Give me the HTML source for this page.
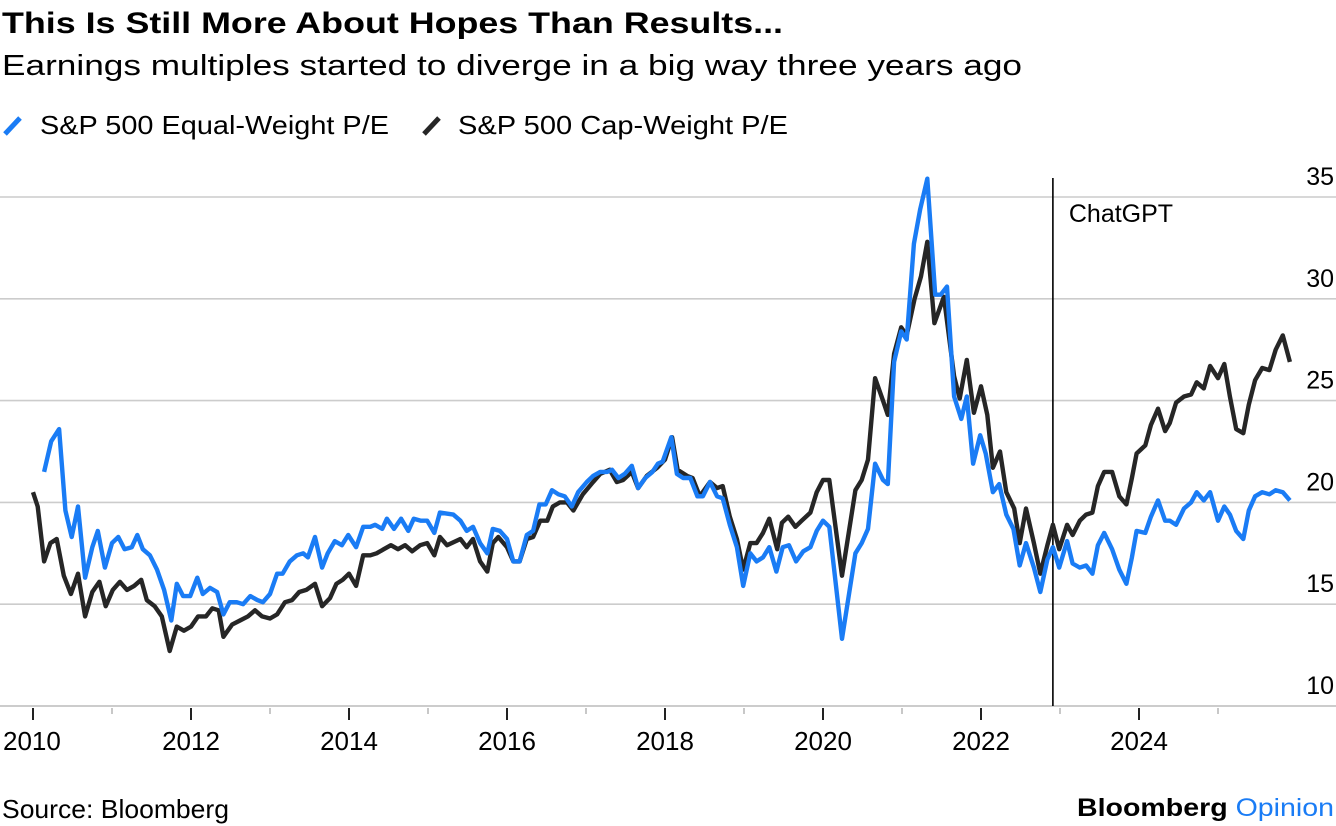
<!DOCTYPE html>
<html><head><meta charset="utf-8">
<style>
html,body{margin:0;padding:0;background:#fff;}
body{width:1336px;height:826px;overflow:hidden;position:relative;font-family:"Liberation Sans",sans-serif;color:#000;}
svg{position:absolute;left:0;top:0;}
</style></head>
<body>
<svg id="chart" width="1336" height="826">
<text x="2" y="33" font-size="30" font-weight="bold" font-family="Liberation Sans" textLength="781" lengthAdjust="spacingAndGlyphs">This Is Still More About Hopes Than Results...</text>
<text x="2" y="75" font-size="29" font-family="Liberation Sans" textLength="1020" lengthAdjust="spacingAndGlyphs">Earnings multiples started to diverge in a big way three years ago</text>
<g>
<g>
<line x1="5" y1="134" x2="20" y2="118" stroke="#1a7cf5" stroke-width="5"/>
<text x="40" y="134" font-size="26" font-family="Liberation Sans" textLength="349" lengthAdjust="spacingAndGlyphs">S&amp;P 500 Equal-Weight P/E</text>
</g>
<g>
<line x1="424" y1="134" x2="439" y2="118" stroke="#262626" stroke-width="5"/>
<text x="458" y="134" font-size="26" font-family="Liberation Sans" textLength="330" lengthAdjust="spacingAndGlyphs">S&amp;P 500 Cap-Weight P/E</text>
</g>
</g>
<g id="grid"></g>
<g id="yaxis"></g>
<g id="xaxis"></g>
<g id="annot"></g>
<g id="series"></g>
<text x="2" y="818" font-size="26" font-family="Liberation Sans" textLength="227" lengthAdjust="spacingAndGlyphs">Source: Bloomberg</text>
<text x="1077" y="816" font-size="25" font-weight="bold" font-family="Liberation Sans" textLength="257" lengthAdjust="spacingAndGlyphs">Bloomberg <tspan fill="#1a7cf5" font-weight="normal">Opinion</tspan></text>
</svg>
<script>
// years offset from Jan 2010
const capDates=[0,.06,.14,.22,.30,.39,.48,.57,.66,.75,.84,.92,1.01,1.10,1.19,1.28,1.37,1.44,1.54,1.63,1.73,1.82,1.91,2.00,2.09,2.19,2.27,2.35,2.41,2.52,2.62,2.72,2.81,2.90,3.00,3.09,3.19,3.28,3.37,3.46,3.57,3.66,3.76,3.84,3.92,4.00,4.09,4.18,4.27,4.35,4.44,4.53,4.62,4.71,4.80,4.90,4.99,5.08,5.15,5.24,5.41,5.49,5.57,5.66,5.75,5.82,5.89,6.00,6.08,6.16,6.25,6.33,6.42,6.51,6.58,6.67,6.76,6.84,6.96,7.09,7.18,7.30,7.39,7.47,7.58,7.66,7.77,7.90,8.00,8.09,8.16,8.28,8.35,8.44,8.57,8.66,8.73,8.82,8.91,8.99,9.08,9.16,9.24,9.32,9.42,9.48,9.56,9.65,9.73,9.84,9.92,10.00,10.08,10.24,10.41,10.49,10.57,10.66,10.76,10.82,10.90,10.99,11.06,11.16,11.24,11.32,11.41,11.53,11.66,11.73,11.82,11.91,12.00,12.08,12.15,12.24,12.32,12.42,12.49,12.57,12.67,12.75,12.84,12.91,12.99,13.09,13.16,13.25,13.33,13.41,13.48,13.56,13.66,13.75,13.84,13.91,13.97,14.08,14.15,14.24,14.33,14.39,14.47,14.57,14.66,14.73,14.82,14.90,15.00,15.08,15.15,15.23,15.32,15.39,15.47,15.56,15.65,15.73,15.82,15.91];
const capValues=[20.5,19.8,17.1,18.0,18.2,16.4,15.5,16.5,14.4,15.6,16.1,14.9,15.7,16.1,15.7,15.9,16.2,15.2,14.9,14.4,12.7,13.9,13.7,13.9,14.4,14.4,14.8,14.7,13.4,14.0,14.2,14.4,14.7,14.4,14.3,14.5,15.1,15.2,15.6,15.7,16.0,14.9,15.3,16.0,16.2,16.5,15.9,17.4,17.4,17.5,17.7,17.9,17.7,17.9,17.6,17.9,18.0,17.4,18.3,17.9,18.2,17.8,18.2,17.1,16.6,18.0,18.3,17.8,17.1,17.1,18.2,18.3,19.1,19.1,19.8,20.0,20.0,19.6,20.4,21.0,21.4,21.6,21.0,21.1,21.5,20.7,21.3,21.7,22.1,23.2,21.6,21.3,21.2,20.3,21.0,20.7,20.8,19.3,18.2,16.7,18.0,18.0,18.5,19.2,17.7,19.0,19.3,18.8,19.1,19.5,20.5,21.1,21.1,16.4,20.6,21.1,22.1,26.1,25.0,24.3,27.3,28.6,28.2,30.0,31.1,32.8,28.8,30.1,26.2,25.1,27.0,24.4,25.7,24.3,21.7,22.5,20.5,19.7,18.0,19.7,18.0,16.5,17.9,18.9,17.7,18.9,18.4,19.1,19.4,19.5,20.8,21.5,21.5,20.3,19.9,21.2,22.4,22.8,23.8,24.6,23.5,23.9,24.9,25.2,25.3,25.9,25.6,26.7,26.1,26.8,25.2,23.6,23.4,24.8,26.0,26.6,26.5,27.5,28.2,26.9];
const eqDates=[.14,.23,.33,.41,.49,.57,.66,.75,.82,.91,1.00,1.08,1.16,1.25,1.32,1.39,1.48,1.57,1.66,1.75,1.82,1.90,1.99,2.08,2.15,2.24,2.33,2.41,2.49,2.58,2.66,2.75,2.84,2.91,3.00,3.09,3.16,3.25,3.34,3.42,3.48,3.57,3.66,3.73,3.82,3.91,3.99,4.09,4.18,4.27,4.33,4.42,4.48,4.57,4.66,4.75,4.82,4.91,4.99,5.08,5.15,5.32,5.41,5.49,5.57,5.66,5.75,5.82,5.91,6.00,6.08,6.16,6.25,6.33,6.41,6.49,6.57,6.65,6.73,6.82,6.90,7.01,7.09,7.18,7.27,7.33,7.41,7.49,7.58,7.66,7.75,7.84,7.91,7.97,8.08,8.15,8.23,8.32,8.41,8.48,8.57,8.66,8.73,8.82,8.91,8.99,9.08,9.16,9.24,9.32,9.41,9.49,9.57,9.66,9.75,9.84,9.92,10.00,10.08,10.24,10.41,10.49,10.57,10.66,10.76,10.82,10.90,10.99,11.06,11.15,11.23,11.32,11.42,11.49,11.57,11.66,11.75,11.82,11.90,11.99,12.06,12.15,12.23,12.32,12.41,12.49,12.57,12.67,12.75,12.84,12.91,12.99,13.09,13.16,13.25,13.33,13.41,13.48,13.56,13.66,13.75,13.84,13.91,13.97,14.08,14.15,14.24,14.33,14.39,14.47,14.57,14.66,14.73,14.82,14.90,15.00,15.08,15.15,15.23,15.32,15.39,15.47,15.56,15.65,15.73,15.82,15.91];
const eqValues=[21.5,23.0,23.6,19.6,18.3,19.8,16.3,17.8,18.6,16.8,18.0,18.3,17.7,17.8,18.4,17.7,17.4,16.7,15.7,14.2,16.0,15.4,15.4,16.3,15.5,15.8,15.6,14.5,15.1,15.1,15.0,15.4,15.2,15.1,15.5,16.5,16.5,17.1,17.4,17.5,17.3,18.3,16.8,17.5,18.1,17.9,18.4,17.8,18.8,18.8,18.9,18.7,19.2,18.7,19.2,18.6,19.2,19.1,19.1,18.5,19.5,19.4,19.1,18.6,18.8,18.0,17.5,18.7,18.6,18.2,17.1,17.1,18.4,18.6,19.9,19.9,20.6,20.4,20.3,19.8,20.5,21.0,21.3,21.5,21.5,21.6,21.2,21.4,21.8,20.7,21.2,21.5,21.9,22.0,23.2,21.4,21.2,21.2,20.3,20.3,21.0,20.3,20.2,18.9,17.8,15.9,17.5,17.1,17.3,17.8,16.6,17.8,17.9,17.1,17.6,17.8,18.6,19.1,18.8,13.3,17.5,18.0,18.7,21.9,21.1,20.9,26.9,28.4,28.0,32.7,34.4,35.9,30.2,30.2,30.6,25.2,24.1,25.2,21.9,23.3,22.4,20.5,20.9,19.4,18.7,16.9,18.0,16.8,15.6,17.2,17.8,16.8,18.1,17.0,16.8,16.9,16.5,17.9,18.5,17.7,16.7,16.0,17.3,18.6,18.5,19.3,20.1,19.1,19.1,18.9,19.7,20.0,20.5,20.1,20.5,19.1,19.8,19.4,18.6,18.2,19.6,20.3,20.5,20.4,20.6,20.5,20.1];
const yTicks=[10,15,20,25,30,35];
const xLabels=["2010","2012","2014","2016","2018","2020","2022","2024"];
const chatGptDate=12.91;

const NS="http://www.w3.org/2000/svg";
const X0=33, PXY=79;
function xScale(t){return X0+t*PXY;}
function yScale(v){return 706-(v-10)*20.36;}
function mk(tag,attrs,parent){const e=document.createElementNS(NS,tag);for(const k in attrs)e.setAttribute(k,attrs[k]);parent.appendChild(e);return e;}
const grid=document.getElementById('grid'),yax=document.getElementById('yaxis'),xax=document.getElementById('xaxis'),ser=document.getElementById('series'),ann=document.getElementById('annot');
yTicks.forEach(v=>{
  const y=yScale(v);
  const l=mk('line',{x1:0,x2:1336,y1:y,y2:y,stroke:'#cccccc','stroke-width':v===10?2:1.6},grid);
  
  
  const t=mk('text',{x:1334,y:y-12,'text-anchor':'end','font-size':25,'font-family':'Liberation Sans'},yax);
  t.textContent=String(v);
  
  
});
for(let i=0;i<16;i++){
  const x=xScale(i);const major=i%2===0;
  const tk=mk('line',{x1:x,x2:x,y1:708,y2:major?720:714,stroke:major?'#222':'#bbb','stroke-width':major?2:1.6},xax);
  
  
}
xLabels.forEach((s,i)=>{
  const x=xScale(i*2);
  const t=mk('text',{x:i===0?x-30:x,y:750,'text-anchor':i===0?'start':'middle','font-size':26,'font-family':'Liberation Sans'},xax);
  t.textContent=s;
  
  
});
const cx=xScale(chatGptDate);
const al=mk('line',{x1:cx,x2:cx,y1:178,y2:706,stroke:'#000','stroke-width':1.6},ann);


const at=mk('text',{x:cx+16,y:222,'font-size':25,'font-family':'Liberation Sans'},ann);
at.textContent='ChatGPT';


function path(d,v){return d.map((t,i)=>(i?'L':'M')+xScale(t).toFixed(1)+','+yScale(v[i]).toFixed(1)).join('');}
const pc=mk('path',{d:path(capDates,capValues),fill:'none',stroke:'#262626','stroke-width':4.4,'stroke-linejoin':'round'},ser);


const pe=mk('path',{d:path(eqDates,eqValues),fill:'none',stroke:'#1a7cf5','stroke-width':4.4,'stroke-linejoin':'round'},ser);


</script>
</body></html>
